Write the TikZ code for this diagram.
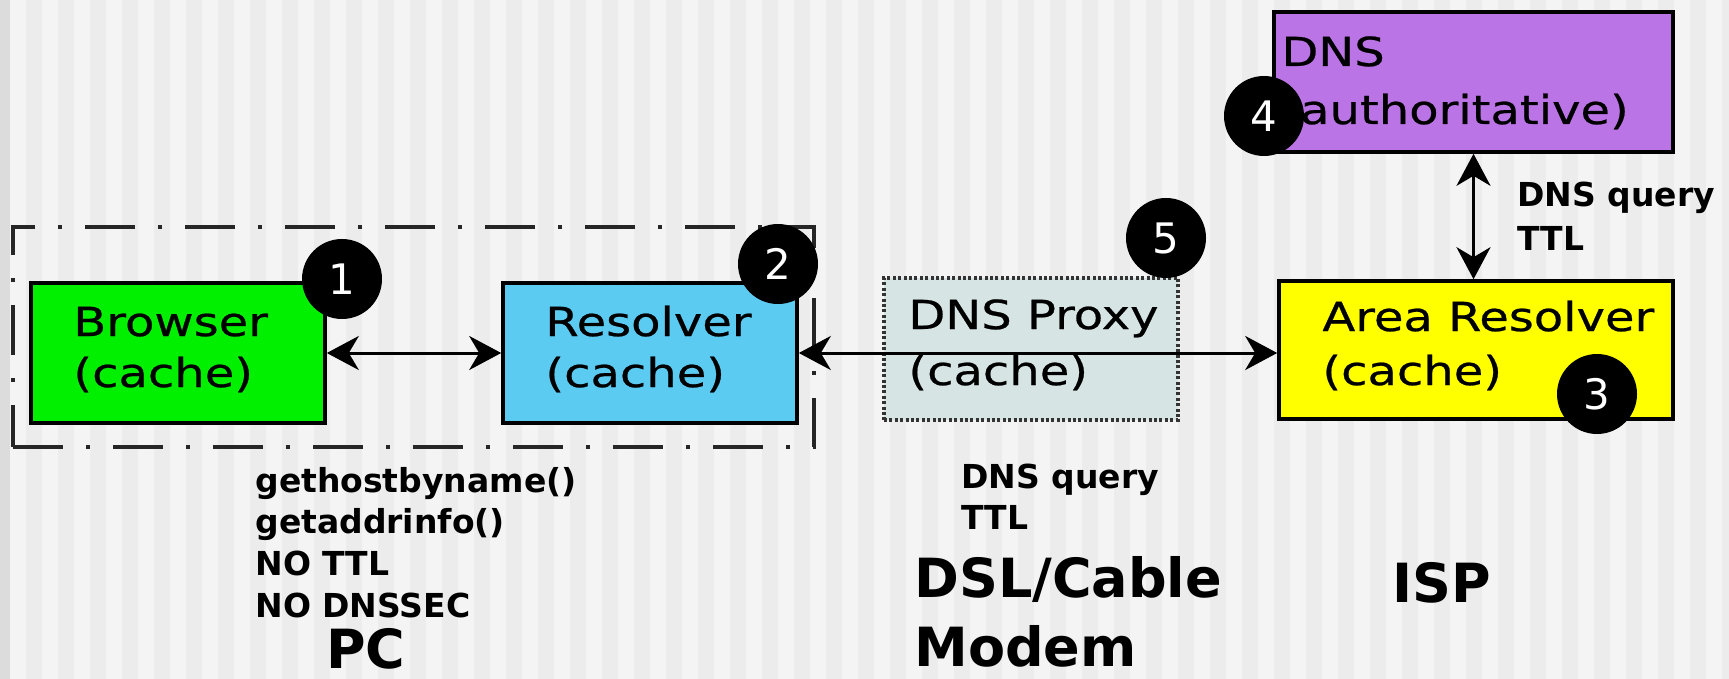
\documentclass[tikz,border=0pt]{standalone}
\usepackage{fontspec}
\setmainfont{DejaVu Sans}
\newfontfamily\boxfont[FakeStretch=1.2,FakeBold=0.6]{DejaVu Sans}
\usetikzlibrary{arrows.meta,fit}
\definecolor{bglight}{HTML}{F4F4F4}
\definecolor{bgdark}{HTML}{ECECEC}
\definecolor{bgedge}{HTML}{DCDCDC}
\definecolor{browsergreen}{RGB}{0,240,0}
\definecolor{resolverblue}{RGB}{92,203,242}
\definecolor{proxygrey}{RGB}{214,228,228}
\definecolor{areayellow}{RGB}{255,255,0}
\definecolor{authpurple}{RGB}{187,116,230}
\begin{document}
\begin{tikzpicture}[x=0.5pt,y=-0.5pt,
  box/.style={draw=black, line width=1.8pt, inner sep=0pt, rectangle},
  proxybox/.style={draw=black!80, line width=1.7pt, dash pattern=on 1.5pt off 1.2pt, fill=proxygrey, inner sep=0pt, rectangle},
  groupbox/.style={draw=black!85, line width=1.7pt, dash pattern=on 25pt off 11.5pt on 2pt off 11.5pt, inner sep=0pt, rectangle},
  biarrow/.style={line width=1.5pt, arrows={Stealth[length=16pt,width=17pt,inset=5pt]-Stealth[length=16pt,width=17pt,inset=5pt]}},
  badge/.style={circle, fill=black, text=white, minimum size=40pt, inner sep=0pt, font=\fontsize{21}{24}\selectfont},
  boxtext/.style={anchor=base west, inner sep=0pt, font=\boxfont\fontsize{20}{24}\selectfont},
  note/.style={anchor=base west, inner sep=0pt, font=\bfseries\fontsize{16.5}{20}\selectfont},
  bigtext/.style={anchor=base west, inner sep=0pt, font=\bfseries\fontsize{27}{32}\selectfont}
]
% background
\useasboundingbox (0,0) rectangle (1729,679);
\fill[bglight] (0,0) rectangle (1729,679);
\foreach \i in {0,...,53} \fill[bgdark] ({26+32*\i},0) rectangle ++(16,679);
\fill[bgedge] (0,0) rectangle (10,679);

% group box (PC)
\node[groupbox, fit={(13,227) (814,447)}] (pcgroup) {};

% boxes
\node[box, fill=browsergreen, fit={(31,283) (325,423)}] (browser) {};
\node[box, fill=resolverblue, fit={(503,283) (797,423)}] (resolver) {};
\node[proxybox, fit={(884,278) (1178,420)}] (proxy) {};
\node[box, fill=areayellow, fit={(1279,281) (1673,419)}] (area) {};
\node[box, fill=authpurple, fit={(1274,12) (1673,152)}] (auth) {};

% box texts
\node[boxtext] (browsert1) at (73,336) {Browser};
\node[boxtext] (browsert2) at (73,387) {(cache)};
\node[boxtext] (resolvert1) at (545,336) {Resolver};
\node[boxtext] (resolvert2) at (545,387) {(cache)};
\node[boxtext] (proxyt1) at (908,329) {DNS Proxy};
\node[boxtext] (proxyt2) at (908,385) {(cache)};
\node[boxtext] (areat1) at (1322,331) {Area Resolver};
\node[boxtext] (areat2) at (1322,385) {(cache)};
\node[boxtext] (autht1) at (1281,66) {DNS};
\node[boxtext] (autht2) at (1281,124) {(authoritative)};

% connectors
\draw[biarrow] (browser.east) -- (resolver.west);
\draw[biarrow] (resolver.east) -- (resolver.east -| area.west);
\draw[biarrow] (auth.south) -- (auth.south |- area.north);

% notes
\node[note] (notea1) at (1517,207) {DNS query};
\node[note] (notea2) at (1517,250) {TTL};
\node[note] (noteb1) at (255,492) {gethostbyname()};
\node[note] (noteb2) at (255,533) {getaddrinfo()};
\node[note] (noteb3) at (255,575) {NO TTL};
\node[note] (noteb4) at (255,617) {NO DNSSEC};
\node[note] (notec1) at (961,488) {DNS query};
\node[note] (notec2) at (961,529) {TTL};

% zone labels
\node[bigtext] (pclabel) at (326,668) {PC};
\node[bigtext] (modem1) at (914,597) {DSL/Cable};
\node[bigtext] (modem2) at (914,666) {Modem};
\node[bigtext] (isplabel) at (1392,602) {ISP};

% badges
\node[badge] (n1) at (342,279) {1};
\node[badge] (n2) at (778,264) {2};
\node[badge] (n3) at (1597,394) {3};
\node[badge] (n4) at (1264,116) {4};
\node[badge] (n5) at (1166,238) {5};
\end{tikzpicture}
\end{document}
